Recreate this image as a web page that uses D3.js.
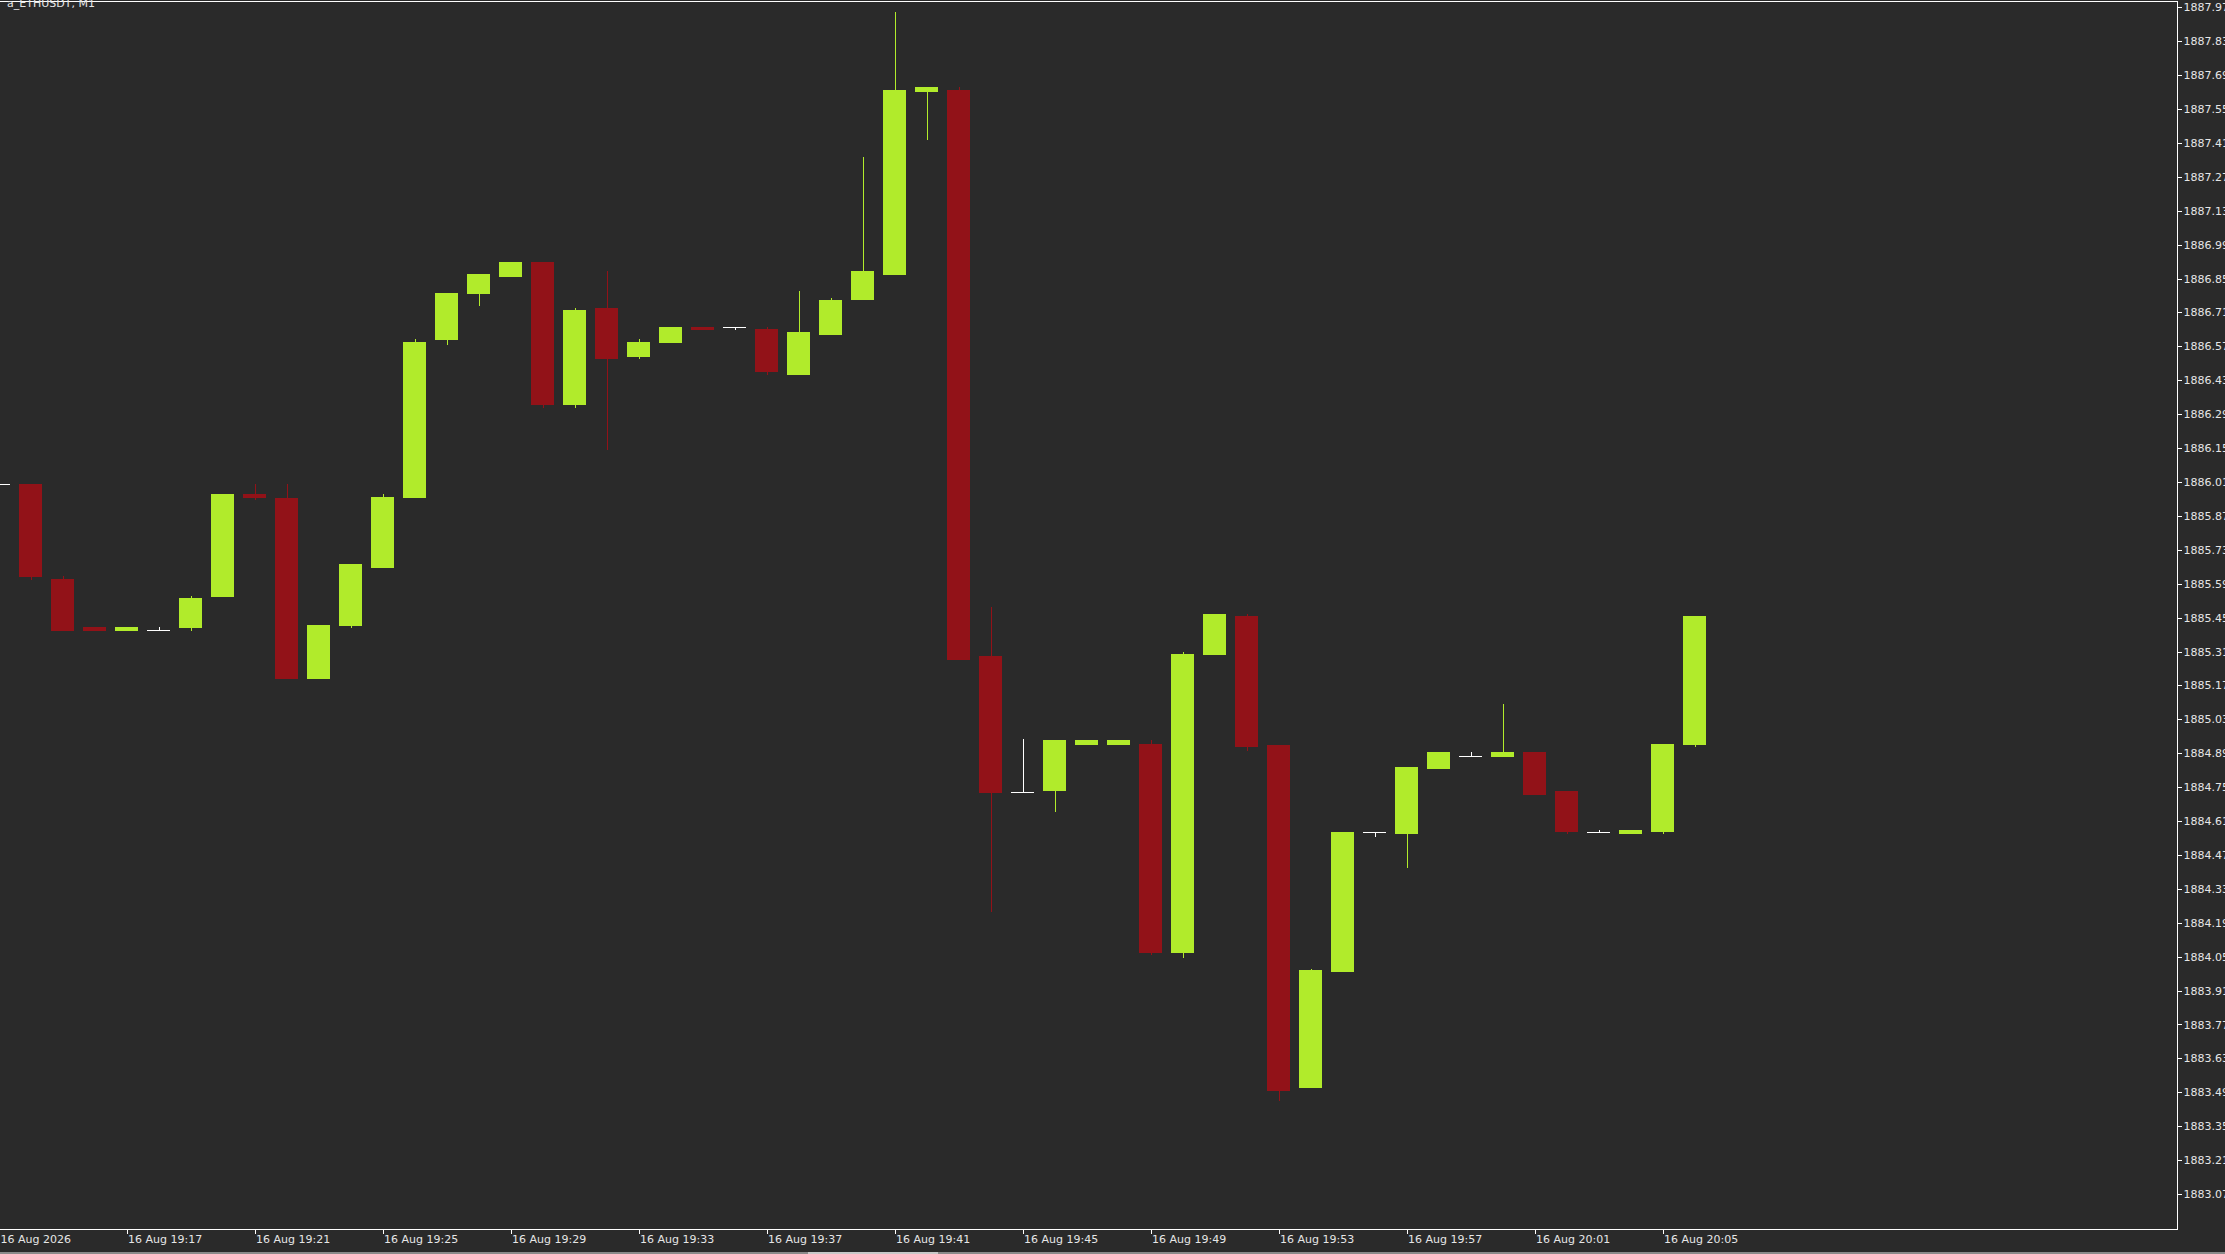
<!DOCTYPE html>
<html>
<head>
<meta charset="utf-8">
<script src="https://cdn.jsdelivr.net/npm/d3@7"></script>
<style>
  html, body { margin: 0; padding: 0; background: #2a2a2a; overflow: hidden; }
  svg { display: block; }
</style>
</head>
<body>
<svg id="chart_canvas" width="2225" height="1254"></svg>
<script>
// ETHUSDT M1 candles, 16 Aug 19:13 .. 20:06
var times = ["19:13","19:14","19:15","19:16","19:17","19:18","19:19","19:20","19:21","19:22",
             "19:23","19:24","19:25","19:26","19:27","19:28","19:29","19:30","19:31","19:32",
             "19:33","19:34","19:35","19:36","19:37","19:38","19:39","19:40","19:41","19:42",
             "19:43","19:44","19:45","19:46","19:47","19:48","19:49","19:50","19:51","19:52",
             "19:53","19:54","19:55","19:56","19:57","19:58","19:59","20:00","20:01","20:02",
             "20:03","20:04","20:05","20:06"];

var open  = [1886.00,1886.00,1885.61,1885.41,1885.40,1885.40,1885.41,1885.54,1885.96,1885.945,
             1885.20,1885.42,1885.66,1885.95,1886.60,1886.79,1886.86,1886.92,1886.33,1886.73,
             1886.53,1886.59,1886.65,1886.65,1886.64,1886.455,1886.62,1886.765,1886.87,1887.625,
             1887.63,1885.29,1884.73,1884.74,1884.93,1884.93,1884.93,1884.07,1885.30,1885.455,
             1884.925,1883.51,1883.99,1884.565,1884.56,1884.83,1884.88,1884.88,1884.895,1884.735,
             1884.565,1884.56,1884.57,1884.93];
var high  = [1886.00,1886.00,1885.62,1885.41,1885.41,1885.41,1885.54,1885.96,1886.00,1886.00,
             1885.42,1885.67,1885.96,1886.60,1886.79,1886.87,1886.92,1886.92,1886.73,1886.88,
             1886.60,1886.65,1886.65,1886.65,1886.65,1886.80,1886.77,1887.35,1887.95,1887.64,
             1887.64,1885.495,1884.95,1884.945,1884.945,1884.945,1884.945,1885.31,1885.465,1885.465,
             1884.925,1884.00,1884.565,1884.565,1884.835,1884.895,1884.895,1885.095,1884.895,1884.735,
             1884.575,1884.575,1884.93,1885.455];
var low   = [1886.00,1885.61,1885.40,1885.40,1885.40,1885.40,1885.40,1885.54,1885.94,1885.20,
             1885.20,1885.41,1885.66,1885.95,1886.58,1886.74,1886.86,1886.32,1886.32,1886.145,
             1886.52,1886.59,1886.64,1886.64,1886.455,1886.455,1886.62,1886.765,1886.87,1887.425,
             1885.28,1884.24,1884.73,1884.65,1884.93,1884.93,1884.06,1884.05,1885.30,1884.905,
             1883.46,1883.51,1883.99,1884.55,1884.42,1884.83,1884.88,1884.88,1884.72,1884.56,
             1884.565,1884.56,1884.56,1884.92];
var close = [1886.00,1885.62,1885.40,1885.40,1885.41,1885.40,1885.53,1885.96,1885.95,1885.20,
             1885.42,1885.67,1885.95,1886.59,1886.79,1886.87,1886.92,1886.33,1886.72,1886.52,
             1886.59,1886.65,1886.64,1886.65,1886.47,1886.63,1886.76,1886.88,1887.63,1887.64,
             1885.28,1884.73,1884.73,1884.945,1884.945,1884.945,1884.07,1885.30,1885.465,1884.92,
             1883.50,1883.995,1884.565,1884.565,1884.835,1884.895,1884.88,1884.895,1884.72,1884.57,
             1884.565,1884.575,1884.93,1885.455];

// price scale labels (every 0.14)
var priceTicks = ["1883.07","1883.21","1883.35","1883.49","1883.63","1883.77","1883.91","1884.05",
                  "1884.19","1884.33","1884.47","1884.61","1884.75","1884.89","1885.03","1885.17",
                  "1885.31","1885.45","1885.59","1885.73","1885.87","1886.01","1886.15","1886.29",
                  "1886.43","1886.57","1886.71","1886.85","1886.99","1887.13","1887.27","1887.41",
                  "1887.55","1887.69","1887.83","1887.97"];
// time scale labels
var timeTicks = ["19:13","19:17","19:21","19:25","19:29","19:33","19:37","19:41","19:45",
                 "19:49","19:53","19:57","20:01","20:05"];

var title = "a_ETHUSDT, M1";

const width = 2225, height = 1254;
const plotRight = 2177, plotBottom = 1229;
const upColor = "#b1eb2b", downColor = "#921218", dojiColor = "#ffffff";
const font = "DejaVu Sans, Verdana, sans-serif";

var data = times.map((t, i) => ({t: t, o: open[i], h: high[i], l: low[i], c: close[i]}));

const x = d3.scalePoint()
    .domain(times)
    .range([-1.5, 1694.5]);

const y = d3.scaleLinear()
    .domain([+priceTicks[0], +priceTicks[priceTicks.length - 1]])
    .range([1194, 7.3]);

const bodyW = 23;

var svg = d3.select('#chart_canvas');

svg.append("rect")
    .attr("width", width).attr("height", height)
    .attr("fill", "#2a2a2a");

function candleColor(d) {
    if (d.c > d.o) return upColor;
    if (d.c < d.o) return downColor;
    return dojiColor;
}

var plot = svg.append("g").attr("shape-rendering", "crispEdges");

// wicks
plot.append("g")
    .selectAll("line")
    .data(data)
    .join("line")
    .attr("x1", d => Math.round(x(d.t)) + 0.5)
    .attr("x2", d => Math.round(x(d.t)) + 0.5)
    .attr("y1", d => y(d.h))
    .attr("y2", d => y(d.l) + 1)
    .attr("stroke", candleColor)
    .attr("stroke-width", 1);

// bodies
plot.append("g")
    .selectAll("rect")
    .data(data)
    .join("rect")
    .attr("x", d => Math.round(x(d.t) - bodyW / 2))
    .attr("width", bodyW)
    .attr("y", d => y(Math.max(d.o, d.c)))
    .attr("height", d => d.o === d.c ? 1 : Math.abs(y(d.o) - y(d.c)) + 1)
    .attr("fill", candleColor);

// frame
svg.append("path")
    .attr("d", `M0,1.5H${plotRight + 0.5}V${plotBottom + 0.5}H0`)
    .attr("fill", "none")
    .attr("stroke", "#ffffff")
    .attr("stroke-width", 1)
    .attr("shape-rendering", "crispEdges");

// price axis
svg.append("g")
    .attr("transform", `translate(${plotRight + 0.5},0)`)
    .call(d3.axisRight(y)
        .tickValues(priceTicks.map(Number))
        .tickFormat(d3.format(".2f"))
        .tickSize(4)
        .tickPadding(2))
    .call(g => g.select(".domain").remove())
    .call(g => g.selectAll("line").attr("stroke", "#ffffff").attr("shape-rendering", "crispEdges"))
    .call(g => g.selectAll("text")
        .attr("fill", "#e6e6e6")
        .attr("font-family", font)
        .attr("font-size", 11));

// time axis
svg.append("g")
    .attr("transform", `translate(0,${plotBottom + 0.5})`)
    .call(d3.axisBottom(x)
        .tickValues(timeTicks)
        .tickFormat((d, i) => i === 0 ? "16 Aug 2026" : "16 Aug " + d)
        .tickSize(4))
    .call(g => g.select(".domain").remove())
    .call(g => g.selectAll("line").attr("stroke", "#ffffff").attr("shape-rendering", "crispEdges"))
    .call(g => g.selectAll("text")
        .attr("fill", "#e6e6e6")
        .attr("font-family", font)
        .attr("font-size", 11)
        .attr("text-anchor", "start")
        .attr("x", (d, i) => i === 0 ? 1.5 : 1)
        .attr("y", 6));

// symbol title, cut by the top edge
svg.append("text")
    .attr("x", 7).attr("y", 7)
    .attr("fill", "#e6e6e6")
    .attr("font-family", font)
    .attr("font-size", 11)
    .text(title);

// window edge / scrollbar at the bottom
svg.append("rect")
    .attr("x", 0).attr("y", 1252).attr("width", width).attr("height", 2)
    .attr("fill", "#8a8a8a");
svg.append("rect")
    .attr("x", 808).attr("y", 1252).attr("width", 130).attr("height", 2)
    .attr("fill", "#c8c8c8");
</script>
</body>
</html>
